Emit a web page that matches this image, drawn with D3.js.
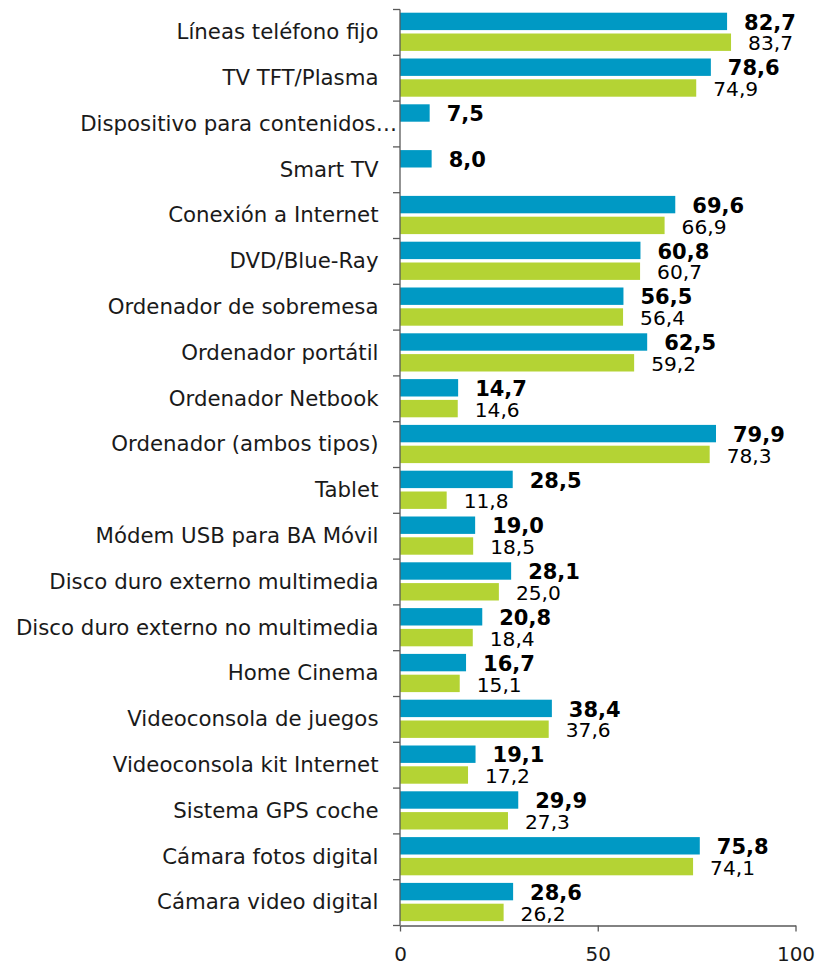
<!DOCTYPE html>
<html>
<head>
<meta charset="utf-8">
<script src="https://cdnjs.cloudflare.com/ajax/libs/d3/7.8.5/d3.min.js"></script>
<style>
  body { margin: 0; background: #fff; }
  text { font-family: "DejaVu Sans", Verdana, sans-serif; }
</style>
</head>
<body>
<div id="chart-area"></div>
<script>
// categorias y valores (azul = serie actual, verde = serie anterior)
const categorias = [
    "Líneas teléfono fijo", "TV TFT/Plasma", "Dispositivo para contenidos…", "Smart TV",
    "Conexión a Internet", "DVD/Blue-Ray", "Ordenador de sobremesa", "Ordenador portátil",
    "Ordenador Netbook", "Ordenador (ambos tipos)", "Tablet", "Módem USB para BA Móvil",
    "Disco duro externo multimedia", "Disco duro externo no multimedia", "Home Cinema",
    "Videoconsola de juegos", "Videoconsola kit Internet", "Sistema GPS coche",
    "Cámara fotos digital", "Cámara video digital"
]
const serieAzul = [82.7, 78.6, 7.5, 8.0, 69.6, 60.8, 56.5, 62.5, 14.7, 79.9, 28.5, 19.0, 28.1, 20.8, 16.7, 38.4, 19.1, 29.9, 75.8, 28.6]
const serieVerde = [83.7, 74.9, null, null, 66.9, 60.7, 56.4, 59.2, 14.6, 78.3, 11.8, 18.5, 25.0, 18.4, 15.1, 37.6, 17.2, 27.3, 74.1, 26.2]
const ticksX = [0, 50, 100]

const W = 818, H = 965
const LEFT = 400, RIGHT = 795.5, TOP = 9.5, BOTTOM = 925.5
const AZUL = "#0099c4", VERDE = "#b4d334", EJE = "#595959"
const formatear = d => d.toFixed(1).replace(".", ",")

const svg = d3.select("#chart-area").append("svg")
    .attr("width", W)
    .attr("height", H)

// escalas
const x = d3.scaleLinear().domain([0, 100]).range([LEFT, RIGHT])
const y = d3.scaleBand().domain(categorias).range([TOP, BOTTOM])
const bw = y.bandwidth()
const barH = 17.4, pad = 3.2, gap = 3.4

const datos = categorias.map((c, i) => ({ cat: c, azul: serieAzul[i], verde: serieVerde[i] }))

// barras azules
svg.append("g").selectAll("rect")
    .data(datos)
    .enter().append("rect")
        .attr("x", x(0))
        .attr("y", d => y(d.cat) + pad)
        .attr("width", d => x(d.azul) - x(0))
        .attr("height", barH)
        .attr("fill", AZUL)

// barras verdes
svg.append("g").selectAll("rect")
    .data(datos.filter(d => d.verde != null))
    .enter().append("rect")
        .attr("x", x(0))
        .attr("y", d => y(d.cat) + pad + barH + gap)
        .attr("width", d => x(d.verde) - x(0))
        .attr("height", barH)
        .attr("fill", VERDE)

// etiquetas de valor
svg.append("g").selectAll("text")
    .data(datos)
    .enter().append("text")
        .attr("x", d => x(d.azul) + 17)
        .attr("y", d => y(d.cat) + pad + barH - 0.6)
        .attr("font-size", "21px")
        .attr("font-weight", "bold")
        .attr("fill", "#000")
        .text(d => formatear(d.azul))

svg.append("g").selectAll("text")
    .data(datos.filter(d => d.verde != null))
    .enter().append("text")
        .attr("x", d => x(d.verde) + 17)
        .attr("y", d => y(d.cat) + pad + 2 * barH + gap - 0.6)
        .attr("font-size", "20.2px")
        .attr("fill", "#000")
        .text(d => formatear(d.verde))

// etiquetas de categoria
svg.append("g").selectAll("text")
    .data(categorias)
    .enter().append("text")
        .attr("x", d => d.endsWith("…") ? 397 : 378.5)
        .attr("y", d => y(d) + bw / 2 + 6.8)
        .attr("text-anchor", "end")
        .attr("font-size", "21.3px")
        .attr("fill", "#1a1a1a")
        .text(d => d)

// eje Y con marcas en los limites de cada banda
const ejeY = svg.append("g").attr("stroke", EJE).attr("stroke-width", 1.3)
ejeY.append("line")
    .attr("x1", LEFT).attr("x2", LEFT)
    .attr("y1", TOP).attr("y2", BOTTOM)
ejeY.selectAll(".tk")
    .data(categorias.map(c => y(c)).concat([BOTTOM]))
    .enter().append("line")
        .attr("class", "tk")
        .attr("x1", LEFT - 7).attr("x2", LEFT)
        .attr("y1", d => d).attr("y2", d => d)

// eje X
const xAxisCall = d3.axisBottom(x)
    .tickValues(ticksX)
    .tickSize(6)
    .tickSizeOuter(0)
    .tickPadding(15)
const xAxis = svg.append("g")
    .attr("transform", `translate(0, ${BOTTOM})`)
    .call(xAxisCall)
xAxis.select(".domain").attr("stroke", EJE).attr("stroke-width", 1.3)
xAxis.selectAll(".tick line").attr("stroke", EJE).attr("stroke-width", 1.3)
xAxis.selectAll(".tick text")
    .attr("font-size", "20px")
    .attr("font-family", "'DejaVu Sans', Verdana, sans-serif")
    .attr("fill", "#1a1a1a")
</script>
</body>
</html>
